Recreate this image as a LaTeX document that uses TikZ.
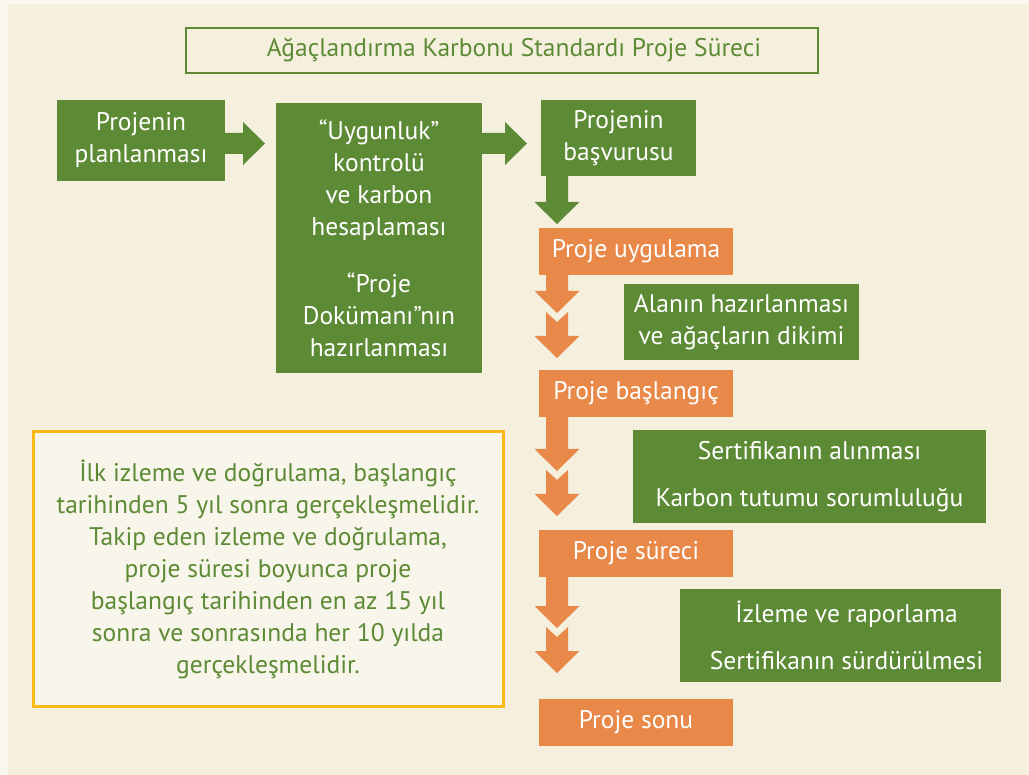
\documentclass[tikz,border=0pt]{standalone}
\usepackage{fontspec}
\setmainfont{PT Sans}
\usepackage{xcolor}
\usetikzlibrary{calc}

\definecolor{leafgreen}{HTML}{5D8A35}
\definecolor{carrot}{HTML}{E8894A}
\definecolor{paper}{HTML}{F5EFDE}
\definecolor{paperedge}{HTML}{F9F7EE}
\definecolor{noteback}{HTML}{F8F5EA}
\definecolor{noteline}{HTML}{FBBA17}

% block arrows: start point, tip point, colour
\newcommand{\flowright}[3]{%
  \fill[#3] let \p1=(#1), \p2=(#2) in
    (\x1,\y1+10.5pt) -- (\x2-22pt,\y1+10.5pt) -- (\x2-22pt,\y1+21.5pt) -- (\x2,\y1)
    -- (\x2-22pt,\y1-21.5pt) -- (\x2-22pt,\y1-10.5pt) -- (\x1,\y1-10.5pt) -- cycle;}
\newcommand{\flowdown}[3]{%
  \fill[#3] let \p1=(#1), \p2=(#2) in
    (\x1-11pt,\y1) -- (\x1+11pt,\y1) -- (\x1+11pt,\y2+22pt) -- (\x1+22.5pt,\y2+22pt)
    -- (\x1,\y2) -- (\x1-22.5pt,\y2+22pt) -- (\x1-11pt,\y2+22pt) -- cycle;}
\newcommand{\flowdouble}[3]{%
  \fill[#3] let \p1=(#1), \p2=(#2) in
    (\x1-11pt,\y1) -- (\x1+11pt,\y1) -- (\x1+11pt,\y2+67pt) -- (\x1+22.5pt,\y2+67pt)
    -- (\x1,\y2+45pt) -- (\x1-22.5pt,\y2+67pt) -- (\x1-11pt,\y2+67pt) -- cycle
    (\x1-11pt,\y2+46pt) -- (\x1,\y2+36pt) -- (\x1+11pt,\y2+46pt) -- (\x1+11pt,\y2+22pt)
    -- (\x1+22.5pt,\y2+22pt) -- (\x1,\y2) -- (\x1-22.5pt,\y2+22pt) -- (\x1-11pt,\y2+22pt) -- cycle;}

\begin{document}
\begin{tikzpicture}[
    x=1pt, y=-1pt,
    box/.style={anchor=north west, inner sep=0pt, outer sep=0pt, align=center,
      text=white, font=\fontsize{25.5pt}{32pt}\selectfont},
    greenbox/.style={box, fill=leafgreen},
    orangebox/.style={box, fill=carrot, minimum width=194pt, minimum height=47pt},
    titlebox/.style={box, draw=leafgreen, line width=2.5pt, fill=paper, text=leafgreen},
    notebox/.style={box, draw=noteline, line width=3pt, fill=noteback, text=leafgreen}
]
    \useasboundingbox (0,0) rectangle (1029,775);
    \fill[paperedge] (0,0) rectangle (1029,775);
    \fill[paper] (8,4) rectangle (1029,775);

    \node[titlebox, minimum width=632pt, minimum height=45pt] (title) at (186,28)
        {\hspace*{24pt}Ağaçlandırma Karbonu Standardı Proje Süreci};

    \node[greenbox, minimum width=168pt, minimum height=81pt] (plan) at (57,100)
        {Projenin\\planlanması};
    \node[greenbox, minimum width=206pt, minimum height=270pt] (check) at (276,103)
        {“Uygunluk”\\kontrolü\\ve karbon\\hesaplaması\\[25pt]“Proje\\Dokümanı”nın\\hazırlanması};
    \node[greenbox, minimum width=155pt, minimum height=76pt] (apply) at (541,100)
        {Projenin\\başvurusu};

    \node[orangebox] (implement) at (539,228) {Proje uygulama};
    \node[orangebox] (launch) at (539,370) {Proje başlangıç};
    \node[orangebox] (run) at (539,530) {Proje süreci};
    \node[orangebox] (finish) at (539,699) {Proje sonu};

    \node[greenbox, minimum width=235pt, minimum height=76pt] (site) at (624,284)
        {Alanın hazırlanması\\ve ağaçların dikimi};
    \node[greenbox, minimum width=353pt, minimum height=93pt] (cert) at (633,430)
        {Sertifikanın alınması\\[15pt]Karbon tutumu sorumluluğu};
    \node[greenbox, minimum width=321pt, minimum height=93pt] (monitor) at (680,589)
        {\hspace*{12pt}İzleme ve raporlama\\[15pt]\hspace*{12pt}Sertifikanın sürdürülmesi};

    \node[notebox, minimum width=470pt, minimum height=274pt] (note) at (33,432)
        {İlk izleme ve doğrulama, başlangıç\\
         tarihinden 5 yıl sonra gerçekleşmelidir.\\
         Takip eden izleme ve doğrulama,\\
         proje süresi boyunca proje\\
         başlangıç tarihinden en az 15 yıl\\
         sonra ve sonrasında her 10 yılda\\
         gerçekleşmelidir.};

    \flowright{$(plan.east)+(0,3)$}{$(check.west)+(-11,0)$}{leafgreen}
    \flowright{$(check.east |- plan.east)+(0,3)$}{$(apply.west)+(-14,0)$}{leafgreen}
    \flowdown{$(apply.south west)+(16,0)$}{$(implement.north west)+(18,-4)$}{leafgreen}
    \flowdouble{$(implement.south west)+(18,0)$}{$(launch.north west)+(18,-12)$}{carrot}
    \flowdouble{$(launch.south west)+(18,0)$}{$(run.north west)+(18,-14)$}{carrot}
    \flowdouble{$(run.south west)+(18,0)$}{$(finish.north west)+(18,-26)$}{carrot}
\end{tikzpicture}
\end{document}
